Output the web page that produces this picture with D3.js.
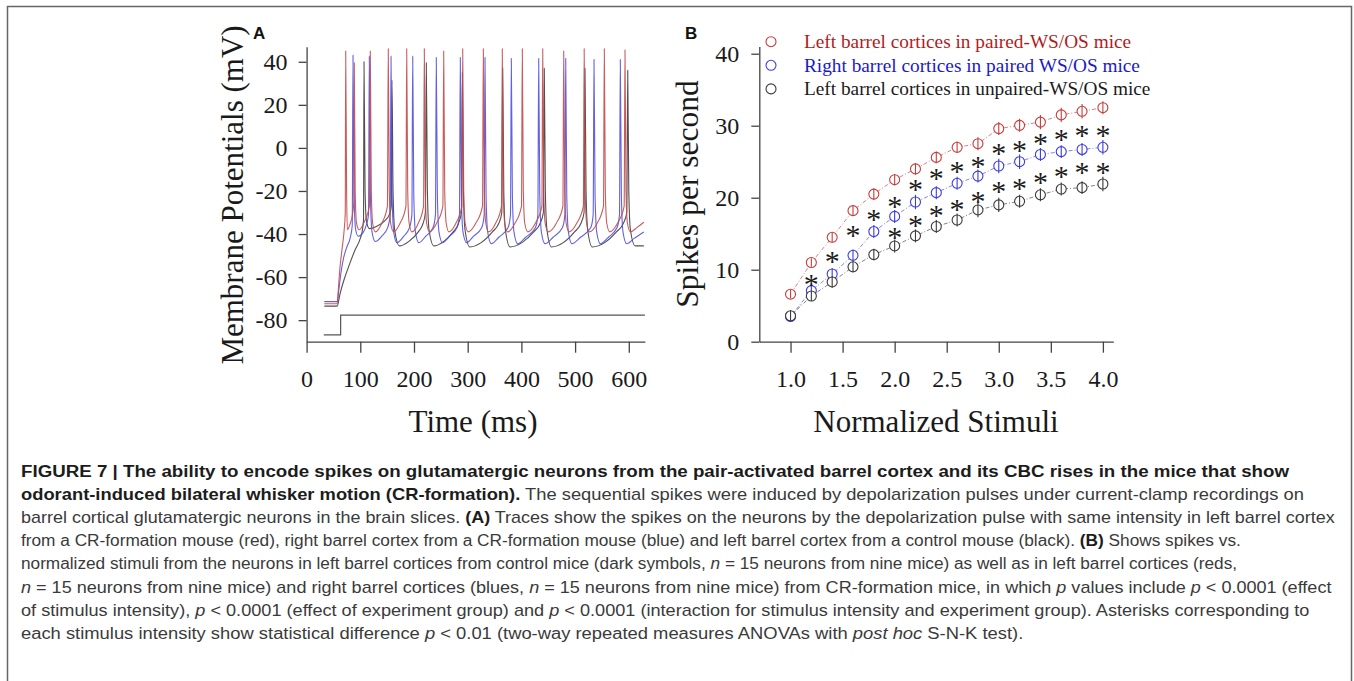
<!DOCTYPE html>
<html><head><meta charset="utf-8">
<script src="https://cdn.jsdelivr.net/npm/d3@7"></script>
<style>
html,body{margin:0;padding:0;background:#fff;}
svg{display:block;}
</style></head><body>
<svg id="c" width="1354" height="681"></svg>
<script>
// ---------------- DATA ----------------
// Panel A
const timeTicks = [0, 100, 200, 300, 400, 500, 600];
const voltTicks = [-80, -60, -40, -20, 0, 20, 40];
// membrane potential traces, [time ms, mV]
const traceRed = [
  [33,-72.4],[57,-72.4],[59,-66],[62,-56],[66,-47],[70,-38],[72,-30],
  [72.8,45],[74.5,-20],[76,-38],[80,-36],[86,-30],[88,-25],
  [88.8,39.5],[90.5,-20],[93,-35],[98,-38],[108,-34],[117,-27],
  [118.6,45],[120.5,-20],[123,-35],[128,-39],[140,-35],[150.5,-27],
  [152.1,46],[154,-20],[156.5,-35],[162,-39],[174,-35],[185,-27],
  [186.4,46],[188.3,-20],[191,-35],[196,-39],[208,-35],[217.8,-27],
  [219.2,46],[221,-20],[223.5,-35],[229,-39],[242,-35],[253.8,-27],
  [255.3,45],[257.2,-20],[260,-35],[265,-39],[278,-35],[289.2,-27],
  [290.7,46],[292.6,-20],[295.3,-35],[301,-39],[315,-35],[327.6,-27],
  [329.1,46],[331,-20],[333.7,-35],[339,-39],[352,-35],[363,-27],
  [364.4,46],[366.3,-20],[369,-35],[374.5,-39],[388,-35],[400.2,-27],
  [401.7,46],[403.6,-20],[406.3,-35],[412,-39],[426,-35],[438.2,-27],
  [439.7,46],[441.6,-20],[444.3,-35],[450,-39],[465,-35],[477.3,-27],
  [478.8,45],[480.7,-20],[483.4,-35],[489,-39],[503,-35],[515.4,-27],
  [516.9,46],[518.8,-20],[521.5,-35],[527,-39],[541,-35],[552.9,-27],
  [554.4,46],[556.3,-20],[559,-35],[564.5,-39],[579,-35],[591.4,-27],
  [592.9,45.5],[594.8,-20],[597.5,-35],[603,-39],[615,-37],[628,-34.5]
];
const traceBlue = [
  [33,-71.4],[57,-71.4],[60,-66],[64,-58],[69,-51],[75,-46],[81,-42],[85,-36],
  [86.4,43],[88.4,-22],[91.4,-38],[96,-41],[106,-39],[111,-36],[115.3,-31],
  [116.8,42.5],[118.8,-22],[121.8,-39],[128,-43.5],[140,-41],[151,-37],[155.7,-31],
  [157.2,42.5],[159.2,-22],[162.2,-39],[168,-44],[181,-41],[191.6,-37],[196.1,-31],
  [197.6,42.5],[199.6,-22],[202.6,-39],[209,-44],[222,-41],[235.5,-37],[240,-31],
  [241.5,42],[243.5,-22],[246.5,-39],[253,-44],[266,-41],[280.2,-37],[284.7,-31],
  [286.2,42],[288.2,-22],[291.2,-39],[298,-44],[311,-41],[326.2,-37],[330.7,-31],
  [332.2,42],[334.2,-22],[337.2,-39],[344,-44.5],[358,-41.5],[375.2,-37],[379.7,-31],
  [381.2,41.5],[383.2,-22],[386.2,-39],[393,-44.5],[408,-41.5],[426.2,-37],[430.7,-31],
  [432.2,41.5],[434.2,-22],[437.2,-39],[444,-44.5],[459,-41.5],[476.5,-37],[481,-31],
  [482.5,41.5],[484.5,-22],[487.5,-39],[494,-44.5],[510,-41.5],[529.2,-37],[533.7,-31],
  [535.2,41],[537.2,-22],[540.2,-39],[547,-44.5],[562,-41.5],[578.2,-37],[582.7,-31],
  [584.2,41],[586.2,-22],[589.2,-39],[596,-44.5],[610,-42],[628,-39]
];
const traceBlack = [
  [33,-73.5],[57,-73.5],[62,-68],[70,-61],[80,-54],[90,-47.5],[100,-42],[104,-38],[106,-33],
  [106.9,40],[108.9,-20],[111.5,-34],[117,-37.5],[130,-36.5],[145,-34],[154,-31],[157.8,-27],
  [159,31.5],[161,-20],[164,-38],[173,-45.5],[190,-43.5],[208,-39],[217,-35],[221.2,-30],
  [222.9,39.5],[224.9,-20],[228,-38],[237,-45.5],[255,-43.5],[273,-39],[283,-35],[288.3,-30],
  [290,35],[292,-20],[295,-38],[304,-46],[325,-44],[346,-39],[358,-35],[363.5,-30],
  [365.2,37],[367.2,-20],[370.2,-38],[379,-46],[401,-44],[423,-39],[435,-35],[440.9,-30],
  [442.6,37],[444.6,-20],[447.6,-38],[456,-46],[478,-44],[499,-39],[511,-35],[516.7,-30],
  [518.4,37],[520.4,-20],[523.4,-38],[532,-46],[555,-44],[577,-39],[590,-35],[596.3,-30],
  [598,36],[600,-20],[603,-38],[612,-45.5],[628,-45.5]
];
const stimPulse = [[32,-86.8],[63.4,-86.8],[63.4,-77.7],[630,-77.7]];

// Panel B
const stimTicks = [1.0, 1.5, 2.0, 2.5, 3.0, 3.5, 4.0];
const rateTicks = [0, 10, 20, 30, 40];
const stimuli = [1.0,1.2,1.4,1.6,1.8,2.0,2.2,2.4,2.6,2.8,3.0,3.2,3.4,3.6,3.8,4.0];
const leftPaired   = [6.6,11.0,14.5,18.2,20.5,22.5,24.0,25.6,27.0,27.5,29.6,30.05,30.5,31.5,32.0,32.5];
const rightPaired  = [3.5,7.1,9.4,12.0,15.3,17.4,19.4,20.7,22.0,23.0,24.4,25.0,26.0,26.4,26.7,27.0];
const leftUnpaired = [3.6,6.35,8.3,10.4,12.1,13.3,14.7,16.0,16.9,18.3,19.0,19.5,20.4,21.2,21.4,21.9];
const leftPairedErr   = [0.6,0.6,0.7,0.7,0.8,0.8,0.8,0.8,0.8,0.9,0.9,0.9,1.0,1.0,1.0,0.9];
const rightPairedErr  = [0.7,0.7,0.8,0.8,0.9,0.9,1.0,0.9,0.9,0.9,1.0,1.0,0.9,0.9,0.9,1.0];
const leftUnpairedErr = [0.8,0.7,0.8,0.8,0.8,0.9,0.9,0.9,0.9,1.0,1.0,0.9,0.9,0.9,0.9,1.0];
const legendLabels = ["Left barrel cortices in paired-WS/OS mice",
                      "Right barrel cortices in paired WS/OS mice",
                      "Left barrel cortices in unpaired-WS/OS mice"];
// asterisk marks (x stimulus, y position in spikes/s)
const sigUpperX = [1.2,1.4,1.6,1.8,2.0,2.2,2.4,2.6,2.8,3.0,3.2,3.4,3.6,3.8,4.0];
const sigUpperY = [8.7,11.8,15.4,17.7,19.5,21.8,23.4,24.3,25.0,26.8,27.2,28.2,28.8,29.4,29.4];
const sigLowerX = [2.0,2.2,2.4,2.6,2.8,3.0,3.2,3.4,3.6,3.8,4.0];
const sigLowerY = [15.1,16.9,18.2,19.1,20.1,21.5,22.0,22.8,23.6,24.2,24.2];

// Caption (segments: [text, style]) b=bold, i=italic, r=regular
const captionLines = [
  [["FIGURE 7 | The ability to encode spikes on glutamatergic neurons from the pair-activated barrel cortex and its CBC rises in the mice that show","b"]],
  [["odorant-induced bilateral whisker motion (CR-formation).","b"],[" The sequential spikes were induced by depolarization pulses under current-clamp recordings on","r"]],
  [["barrel cortical glutamatergic neurons in the brain slices. ","r"],["(A)","b"],[" Traces show the spikes on the neurons by the depolarization pulse with same intensity in left barrel cortex","r"]],
  [["from a CR-formation mouse (red), right barrel cortex from a CR-formation mouse (blue) and left barrel cortex from a control mouse (black). ","r"],["(B)","b"],[" Shows spikes vs.","r"]],
  [["normalized stimuli from the neurons in left barrel cortices from control mice (dark symbols, ","r"],["n","i"],[" = 15 neurons from nine mice) as well as in left barrel cortices (reds,","r"]],
  [["n","i"],[" = 15 neurons from nine mice) and right barrel cortices (blues, ","r"],["n","i"],[" = 15 neurons from nine mice) from CR-formation mice, in which ","r"],["p","i"],[" values include ","r"],["p","i"],[" < 0.0001 (effect","r"]],
  [["of stimulus intensity), ","r"],["p","i"],[" < 0.0001 (effect of experiment group) and ","r"],["p","i"],[" < 0.0001 (interaction for stimulus intensity and experiment group). Asterisks corresponding to","r"]],
  [["each stimulus intensity show statistical difference ","r"],["p","i"],[" < 0.01 (two-way repeated measures ANOVAs with ","r"],["post hoc","i"],[" S-N-K test).","r"]]
];

// ---------------- DRAW ----------------
const svg = d3.select("#c");
const serif = "'Liberation Serif','Times New Roman',serif";
const sans = "'Liberation Sans',Arial,Helvetica,sans-serif";

// frame
svg.append("path").attr("d","M7.5,690 L7.5,6.5 L1351.5,6.5 L1351.5,690")
  .attr("fill","none").attr("stroke","#666").attr("stroke-width",1.5);

function styleAxis(g){
  g.select(".domain").attr("stroke","#444").attr("stroke-width",1.3);
  g.selectAll(".tick line").attr("stroke","#444").attr("stroke-width",1.3);
  g.selectAll(".tick text").attr("font-family",serif).attr("font-size",24).attr("fill","#1a1a1a");
}

// ---- Panel A ----
const xA = d3.scaleLinear().domain([0,630]).range([306.6,644.9]);
const yA = d3.scaleLinear().domain([-90,47]).range([341.7,46.7]);
const gA = svg.append("g");
gA.append("g").attr("transform","translate(0,341.7)")
  .call(d3.axisBottom(xA).tickValues(timeTicks).tickSize(11).tickSizeOuter(0).tickPadding(17).tickFormat(d=>String(d)))
  .call(styleAxis);
gA.append("g").attr("transform","translate(306.6,0)")
  .call(d3.axisLeft(yA).tickValues(voltTicks).tickSize(8).tickSizeOuter(0).tickPadding(11).tickFormat(d=>String(d)))
  .call(styleAxis);

const lineA = d3.line().x(d=>xA(d[0])).y(d=>yA(d[1])).curve(d3.curveMonotoneX);
gA.append("path").datum(stimPulse).attr("d",d3.line().x(d=>xA(d[0])).y(d=>yA(d[1])))
  .attr("fill","none").attr("stroke","#555").attr("stroke-width",1.2);
[[traceBlack,"#3d3d3d"],[traceBlue,"#5050e0"],[traceRed,"#c24a4a"]].forEach(([tr,col])=>{
  gA.append("path").datum(tr).attr("d",lineA).attr("fill","none")
    .attr("stroke",col).attr("stroke-width",1.1).attr("stroke-opacity",0.9);
});
gA.append("text").attr("x",473).attr("y",421).attr("text-anchor","middle").attr("dominant-baseline","central")
  .attr("font-family",serif).attr("font-size",31).attr("fill","#1a1a1a").text("Time (ms)");
gA.append("text").attr("transform","translate(232,195) rotate(-90)").attr("text-anchor","middle").attr("dominant-baseline","central")
  .attr("font-family",serif).attr("font-size",31).attr("fill","#1a1a1a").text("Membrane Potentials (mV)");
gA.append("text").attr("x",253).attr("y",39).attr("font-family",sans).attr("font-weight","bold")
  .attr("font-size",17).attr("fill","#111").text("A");

// ---- Panel B ----
const xB = d3.scaleLinear().domain([0.7,4.1]).range([759.3,1113.3]);
const yB = d3.scaleLinear().domain([0,41]).range([341.7,46.5]);
const gB = svg.append("g");
gB.append("g").attr("transform","translate(0,341.7)")
  .call(d3.axisBottom(xB).tickValues(stimTicks).tickSize(11).tickSizeOuter(0).tickPadding(17).tickFormat(d3.format(".1f")))
  .call(styleAxis);
gB.append("g").attr("transform","translate(759.3,0)")
  .call(d3.axisLeft(yB).tickValues(rateTicks).tickSize(8).tickSizeOuter(0).tickPadding(12).tickFormat(d=>String(d)))
  .call(styleAxis);

const seriesB = [
  {vals:leftPaired, err:leftPairedErr, col:"#c83c3c", text:"#b01c1c"},
  {vals:rightPaired, err:rightPairedErr, col:"#3c3cdc", text:"#1a1ac8"},
  {vals:leftUnpaired, err:leftUnpairedErr, col:"#3a3a3a", text:"#1a1a1a"}
];
const lineB = d3.line().x((d,i)=>xB(stimuli[i])).y(d=>yB(d));
seriesB.forEach(s=>{
  gB.append("path").datum(s.vals).attr("d",lineB).attr("fill","none")
    .attr("stroke",s.col).attr("stroke-width",0.8).attr("stroke-dasharray","4,2,1,2").attr("stroke-opacity",0.8);
});
seriesB.forEach(s=>{
  const g = gB.append("g");
  g.selectAll("circle").data(s.vals).join("circle")
    .attr("cx",(d,i)=>xB(stimuli[i])).attr("cy",d=>yB(d)).attr("r",5)
    .attr("fill","#fff").attr("stroke",s.col).attr("stroke-width",1.1);
  g.selectAll("line").data(s.vals).join("line")
    .attr("x1",(d,i)=>xB(stimuli[i])).attr("x2",(d,i)=>xB(stimuli[i]))
    .attr("y1",(d,i)=>yB(d - s.err[i])).attr("y2",(d,i)=>yB(d + s.err[i]))
    .attr("stroke",s.col).attr("stroke-width",1.1);
});
// asterisks
[[sigUpperX,sigUpperY],[sigLowerX,sigLowerY]].forEach(([xs,ys])=>{
  gB.append("g").selectAll("text").data(xs).join("text")
    .attr("x",d=>xB(d)).attr("y",(d,i)=>yB(ys[i])+14.5)
    .attr("text-anchor","middle").attr("font-family",serif).attr("font-size",30)
    .attr("fill","#1a1a1a").text("*");
});
// legend
legendLabels.forEach((lab,i)=>{
  const y = 41.7 + i*23.6;
  gB.append("circle").attr("cx",771).attr("cy",y).attr("r",5).attr("fill","none")
    .attr("stroke",seriesB[i].col).attr("stroke-width",1.1);
  gB.append("text").attr("x",804).attr("y",y).attr("dominant-baseline","central")
    .attr("font-family",serif).attr("font-size",19.3).attr("fill",seriesB[i].text).text(lab);
});
gB.append("text").attr("x",936).attr("y",421).attr("text-anchor","middle").attr("dominant-baseline","central")
  .attr("font-family",serif).attr("font-size",31).attr("fill","#1a1a1a").text("Normalized Stimuli");
gB.append("text").attr("transform","translate(687,194) rotate(-90)").attr("text-anchor","middle").attr("dominant-baseline","central")
  .attr("font-family",serif).attr("font-size",31.5).attr("fill","#1a1a1a").text("Spikes per second");
gB.append("text").attr("x",685).attr("y",38.5).attr("font-family",sans).attr("font-weight","bold")
  .attr("font-size",17).attr("fill","#111").text("B");

// ---- Caption ----
const capEnds = [1290, 1305, 1336, 1242, 1238, 1333, 1310, 1024];
const capG = svg.append("g");
captionLines.forEach((segs,i)=>{
  const t = capG.append("text").attr("font-family",sans).attr("font-size",16)
    .attr("y",0).attr("x",0);
  segs.forEach(([txt,st])=>{
    t.append("tspan").text(txt)
      .attr("font-weight",st==="b"?"bold":"normal")
      .attr("font-style",st==="i"?"italic":"normal")
      .attr("fill",st==="b"?"#1c1c1c":"#3a3a3a");
  });
  const w = t.node().getComputedTextLength();
  const sc = (capEnds[i] - 21) / w;
  t.attr("transform",`translate(21,${476.5 + i*23.2}) scale(${sc},1)`);
});
</script>
</body></html>
